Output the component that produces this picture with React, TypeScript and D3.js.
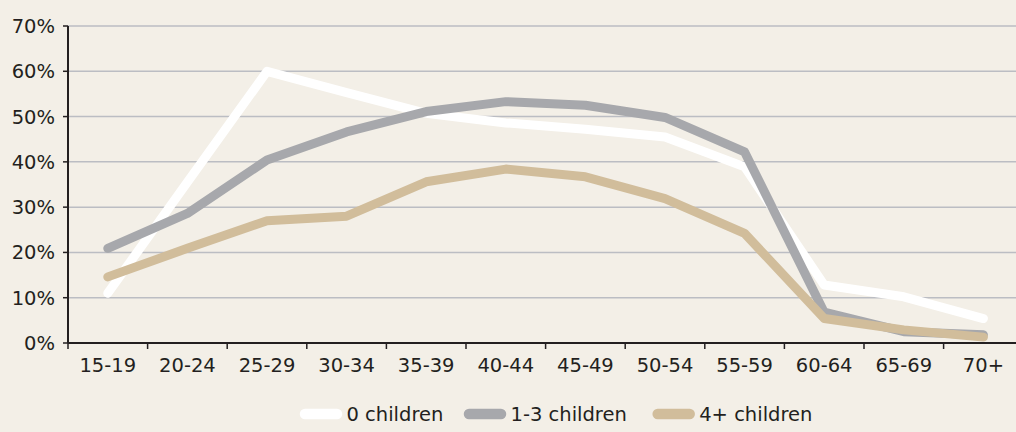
import React from "react";
import * as d3 from "d3";

const categories = ["15-19", "20-24", "25-29", "30-34", "35-39", "40-44", "45-49", "50-54", "55-59", "60-64", "65-69", "70+"];
const seriesNames = ["0 children", "1-3 children", "4+ children"];
const zeroChildren = [11, 35.5, 60, 55.3, 50.7, 48.6, 47.2, 45.5, 38.9, 12.8, 10.2, 5.4];
const oneToThree = [20.9, 28.6, 40.4, 46.6, 51.1, 53.3, 52.5, 49.8, 42.2, 6.8, 2.5, 1.8];
const fourPlus = [14.6, 20.9, 27, 28, 35.6, 38.4, 36.7, 31.9, 24.2, 5.4, 2.9, 1.3];
const yTicks = [0, 10, 20, 30, 40, 50, 60, 70];
const colors = ["#ffffff", "#a7a8ac", "#d1bd9b"];

const W = 1016;
const H = 432;
const left = 68;
const bandW = 79.6;
const top = 26;
const bottom = 343;
const FONT = "'DejaVu Sans', sans-serif";

export default function App() {
  const x = d3.scaleBand<string>().domain(categories).range([left, left + bandW * categories.length]).padding(0);
  const y = d3.scaleLinear().domain([0, 70]).range([bottom, top]);
  const line = d3
    .line<number>()
    .x((_, i) => (x(categories[i]) as number) + x.bandwidth() / 2)
    .y((d) => y(d));
  const series = [zeroChildren, oneToThree, fourPlus];
  const legendX = [300, 464, 652.7];

  return (
    <div style={{ position: "fixed", left: 0, top: 0, width: W, height: H }}>
      <svg width={W} height={H} style={{ display: "block", background: "#f3efe7" }}>
        <rect x={0} y={0} width={W} height={H} fill="#f3efe7" />
        {yTicks.slice(1).map((t) => (
          <line key={t} x1={left} x2={W} y1={y(t)} y2={y(t)} stroke="#bbbdc3" strokeWidth={1.5} />
        ))}
        {yTicks.map((t) => (
          <g key={"yl" + t}>
            <line x1={left - 5} x2={left} y1={y(t)} y2={y(t)} stroke="#231f20" strokeWidth={1.5} />
            <text x={55} y={y(t)} dy="0.36em" textAnchor="end" fontFamily={FONT} fontSize={19.5} fill="#231f20">
              {t}%
            </text>
          </g>
        ))}
        {series.map((s, i) => (
          <path
            key={i}
            d={line(s) || ""}
            fill="none"
            stroke={colors[i]}
            strokeWidth={9}
            strokeLinejoin="round"
            strokeLinecap="round"
          />
        ))}
        <line x1={left} x2={left} y1={top} y2={bottom} stroke="#231f20" strokeWidth={2} />
        <line x1={left} x2={W} y1={bottom} y2={bottom} stroke="#231f20" strokeWidth={2} />
        {categories.map((c, i) => (
          <g key={c}>
            <line
              x1={(x(c) as number)}
              x2={(x(c) as number)}
              y1={bottom}
              y2={bottom + 6}
              stroke="#231f20"
              strokeWidth={1.5}
            />
            <text
              x={(x(c) as number) + x.bandwidth() / 2}
              y={372}
              textAnchor="middle"
              fontFamily={FONT}
              fontSize={19.5}
              fill="#231f20"
            >
              {c}
            </text>
          </g>
        ))}
        {seriesNames.map((n, i) => (
          <g key={n}>
            <line
              x1={legendX[i] + 5}
              x2={legendX[i] + 37}
              y1={414}
              y2={414}
              stroke={colors[i]}
              strokeWidth={10.5}
              strokeLinecap="round"
            />
            <text x={legendX[i] + 46.5} y={421} fontFamily={FONT} fontSize={19.5} fill="#231f20">
              {n}
            </text>
          </g>
        ))}
      </svg>
    </div>
  );
}
